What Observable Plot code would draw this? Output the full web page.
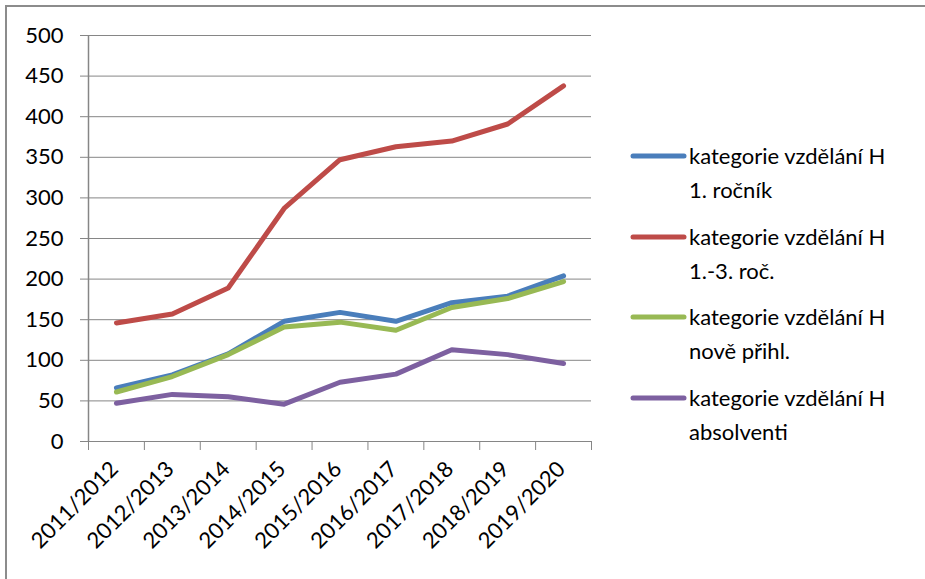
<!DOCTYPE html>
<html>
<head>
<meta charset="utf-8">
<script src="https://cdn.jsdelivr.net/npm/d3@7"></script>
<script src="https://cdn.jsdelivr.net/npm/@observablehq/plot@0.6"></script>
<style>
  html, body { margin: 0; padding: 0; background: #fff; }
  #chart { position: relative; width: 925px; height: 579px; overflow: hidden; font-family: Lato, "Open Sans", sans-serif; }
  #frame { position: absolute; left: 5px; top: 5px; width: 960px; height: 620px;
           border-top: 2px solid #8c8c8c; border-left: 2px solid #8c8c8c; box-sizing: border-box; }
  #plot { position: absolute; left: 0; top: 0; }
  #legend { position: absolute; left: 630px; top: 139px; }
  .item { position: relative; height: 80.5px; }
  .item svg { position: absolute; left: 0; top: 10px; }
  .item .lbl { position: absolute; left: 59px; top: 0; font-size: 22px; line-height: 34px; color: #000; white-space: nowrap; }
</style>
</head>
<body>
<div id="chart">
  <div id="frame"></div>
  <div id="plot"></div>
  <div id="legend"></div>
</div>
<script>
// School years on the horizontal axis
const categories = ["2011/2012", "2012/2013", "2013/2014", "2014/2015", "2015/2016",
                    "2016/2017", "2017/2018", "2018/2019", "2019/2020"];

// Series names (legend text, two lines each)
const seriesNames = [
  ["kategorie vzdělání H", "1. ročník"],
  ["kategorie vzdělání H", "1.-3. roč."],
  ["kategorie vzdělání H", "nově přihl."],
  ["kategorie vzdělání H", "absolventi"]
];
const seriesColors = ["#4a7ebb", "#be4b48", "#98b954", "#7d60a0"];

// Values per series
const rocnik1    = [66, 82, 108, 148, 159, 148, 171, 179, 204];
const rocnik13   = [146, 157, 189, 287, 347, 363, 370, 391, 438];
const novePrihl  = [61, 80, 107, 141, 147, 137, 165, 176, 197];
const absolventi = [47, 58, 55, 46, 73, 83, 113, 107, 96];

// Y axis ticks
const yTicks = d3.range(0, 501, 50);

const seriesValues = [rocnik1, rocnik13, novePrihl, absolventi];
const rows = seriesValues.map((vals, s) =>
  vals.map((v, i) => ({series: s, pos: i + 0.5, year: categories[i], value: v}))
);

const gray = "#868686";
const lineOpts = {x: "pos", y: "value", strokeWidth: 5, strokeLinecap: "round", strokeLinejoin: "round"};

const plot = Plot.plot({
  width: 600,
  height: 579,
  marginLeft: 88,
  marginRight: 9,
  marginTop: 35,
  marginBottom: 138,
  style: {fontFamily: "Lato, 'Open Sans', sans-serif", fontSize: "22px", color: "#000", background: "transparent"},
  x: {type: "linear", domain: [0, categories.length]},
  y: {domain: [0, 500]},
  marks: [
    Plot.gridY(yTicks, {stroke: gray, strokeOpacity: 1, x1: 0, x2: categories.length}),
    Plot.axisY({ticks: yTicks, tickSize: 8, tickPadding: 17, stroke: gray, strokeOpacity: 1,
                fill: "#000", fontSize: 22, label: null}),
    Plot.ruleX([0], {stroke: gray, strokeWidth: 1.5}),
    // boundary ticks between school years
    Plot.axisX({ticks: d3.range(0, categories.length + 1), tickSize: 9, stroke: gray, strokeOpacity: 1,
                tickFormat: () => "", label: null}),
    // school year labels at band centres
    Plot.axisX({ticks: categories.map((c, i) => i + 0.5), tickSize: 0, tickRotate: -45, tickPadding: 24,
                dx: -2, tickFormat: v => categories[Math.floor(v)], fill: "#000", fontSize: 22, label: null}),
    ...rows.map((r, s) => Plot.line(r, {...lineOpts, stroke: seriesColors[s]}))
  ]
});
document.getElementById("plot").appendChild(plot);

// Legend
const legend = d3.select("#legend");
seriesNames.forEach((name, s) => {
  const item = legend.append("div").attr("class", "item");
  const svg = item.append("svg").attr("width", 60).attr("height", 14);
  svg.append("line").attr("x1", 3).attr("x2", 54).attr("y1", 7).attr("y2", 7)
    .attr("stroke", seriesColors[s]).attr("stroke-width", 5).attr("stroke-linecap", "round");
  item.append("div").attr("class", "lbl").html(name.join("<br>"));
});
</script>
</body>
</html>
